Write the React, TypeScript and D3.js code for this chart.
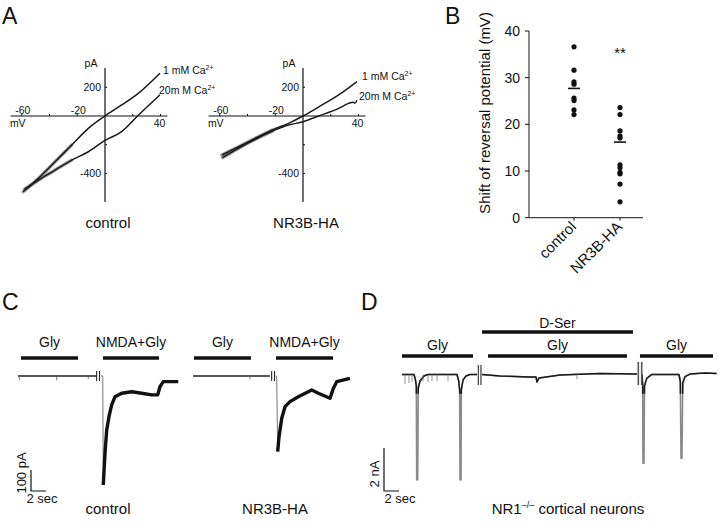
import React from "react";
import * as d3 from "d3";

type P = [number, number];

// ---------- Panel A: I–V relations (mV, pA) ----------
const ivControl1mM: P[] = [[-59, -528], [-48, -435], [-36, -319], [-24, -202], [-12, -86], [0, 0], [12, 77], [24, 158], [39.6, 298]];
const ivControl20mM: P[] = [[-58, -510], [-48, -447], [-36, -377], [-24, -307], [-12, -249], [0, -170], [12, -109], [23.5, 0], [39.6, 147]];
const ivNR3B1mM: P[] = [[-58.4, -272], [-46.4, -214], [-34.4, -156], [-22.3, -98], [-10.4, -51], [0, 0], [13.7, 77], [25.7, 147], [38.9, 240]];
const ivNR3B20mM: P[] = [[-58, -290], [-46, -222], [-34, -160], [-22, -105], [-10.4, -63], [0, -40], [11.3, 0], [25.7, 53], [32.9, 88], [36, 96], [37.5, 90], [38.9, 110]];
const ivXTicks = [-60, -40, -20, 20, 40];
const ivXLabelsTop = [-60, -20];
const ivXLabelsBottom = [40];
const ivYTicks = [200, -200, -400];
const ivYLabels = [200, -400];
const ivConditions = ["control", "NR3B-HA"];

// ---------- Panel B: shift of reversal potential (mV) ----------
const bGroups = ["control", "NR3B-HA"];
const shiftControl = [36.6, 31.6, 29.1, 28.6, 25.6, 25.1, 23.1, 22.1];
const shiftNR3B = [23.6, 22.1, 18.6, 17.5, 17.1, 11.3, 10.7, 9.7, 9.4, 7.2, 3.4];
const shiftMeans = [27.7, 16.2];
const bTicks = [0, 10, 20, 30, 40];

// ---------- Panel C: currents (sec, pA) ----------
const cStimLabels = ["Gly", "NMDA+Gly"];
const cStimControl: P[] = [[0.4, 8.0], [11.33, 18.8]];
const cStimNR3B: P[] = [[0.13, 7.73], [11.07, 18.67]];
const cControlGly: P[] = [[0, 0], [10.5, 0]];
const cControlGlyTicks: P[] = [[0.17, -18], [5.16, -20], [9.37, -14]];
const cControlNMDA: P[] = [[11.07, 0], [11.3, 0], [11.37, -519], [11.6, -367], [11.83, -257], [12.13, -194], [12.49, -138], [12.93, -99], [13.83, -82], [15.16, -75], [16.49, -82], [17.83, -90], [18.63, -90], [18.93, -51], [19.37, -27], [21.37, -27]];
const cNR3BGly: P[] = [[0, 0], [10.27, 0]];
const cNR3BGlyTicks: P[] = [[7.6, -15]];
const cNR3BNMDA: P[] = [[11.0, 0], [11.16, 0], [11.29, -360], [11.47, -289], [11.83, -201], [12.27, -146], [12.93, -122], [14.04, -99], [15.83, -67], [16.71, -82], [18.27, -106], [18.71, -59], [19.16, -27], [20.93, -11]];
const cBreaks = [10.49, 10.86];
const cTraceNames = ["control", "NR3B-HA"];

// ---------- Panel D: currents (sec, nA) ----------
const dSerBar: P = [10.67, 30.8];
const dGlyBars: P[] = [[0, 9.47], [11.47, 30.0], [31.73, 41.47]];
const dSeg1: P[] = [[0, 0], [1.6, 0], [1.8, -0.26], [1.91, -0.53], [1.96, -4.9], [2.09, -4.9], [2.17, -0.63], [2.4, -0.3], [2.93, -0.07], [3.47, 0], [7.33, 0], [7.56, -0.3], [7.69, -0.72], [7.73, -4.9], [7.87, -4.9], [7.91, -0.72], [8.13, -0.26], [8.53, -0.07], [9.07, 0], [10.0, 0]];
const dSeg1Ticks: P[] = [[0.4, -0.45], [0.93, -0.4], [1.33, -0.35], [2.8, -0.33], [3.47, -0.35], [4.0, -0.3], [4.67, -0.3], [6.13, -0.3]];
const dSeg2: P[] = [[10.67, 0], [13.07, -0.07], [17.07, -0.12], [17.87, -0.12], [18.0, -0.35], [18.27, -0.16], [21.07, -0.02], [26.4, 0.05], [31.33, 0.02]];
const dSeg2Ticks: P[] = [[23.33, -0.22]];
const dSeg3: P[] = [[32.0, 0], [32.09, -0.44], [32.13, -4.13], [32.27, -4.13], [32.33, -0.53], [32.63, -0.18], [33.29, 0], [36.93, 0], [37.11, -0.33], [37.2, -3.9], [37.33, -3.9], [37.43, -0.4], [37.73, -0.1], [38.4, 0.02], [40.4, 0.07], [41.96, 0.05]];
const dBreaks = [10.17, 10.53, 31.51, 31.96];

const FONT = "'Liberation Sans', Arial, Helvetica, sans-serif";
const INK = "#111";

function IVPanel({ axisX, t1, t20, title, lab1, lab20 }: { axisX: number; t1: P[]; t20: P[]; title: string; lab1: P; lab20: P }) {
  const x = d3.scaleLinear().domain([-60, 40]).range([axisX - 83.25, axisX + 55.5]);
  const y = d3.scaleLinear().domain([0, 200]).range([116, 87.3]);
  const line = d3.line<P>().x((d) => x(d[0])).y((d) => y(d[1])).curve(d3.curveMonotoneX);
  const noisy = (t: P[]) => t.filter((d) => d[0] <= -20);
  return (
    <g fontFamily={FONT} fill={INK}>
      <line x1={x(-68)} x2={x(45)} y1={y(0)} y2={y(0)} stroke={INK} strokeWidth={1.2} />
      <line x1={x(0)} x2={x(0)} y1={y(335)} y2={y(-600)} stroke={INK} strokeWidth={1.2} />
      {ivXTicks.map((t) => (
        <line key={"xt" + t} x1={x(t)} x2={x(t)} y1={y(0)} y2={y(0) - 2} stroke={INK} />
      ))}
      {ivYTicks.map((t) => (
        <line key={"yt" + t} x1={x(0)} x2={x(0) + 2} y1={y(t)} y2={y(t)} stroke={INK} />
      ))}
      {ivXLabelsTop.map((t) => (
        <text key={"xl" + t} x={x(t) + 1} y={y(0) - 2} fontSize={10.5} textAnchor="middle">{t}</text>
      ))}
      {ivXLabelsBottom.map((t) => (
        <text key={"xb" + t} x={x(t) - 1} y={y(0) + 11} fontSize={10.5} textAnchor="middle">{t}</text>
      ))}
      <text x={x(-60) - 4} y={y(0) + 11} fontSize={10.5} textAnchor="middle">mV</text>
      {ivYLabels.map((t) => (
        <text key={"yl" + t} x={x(0) - 4} y={y(t) + 4} fontSize={10.5} textAnchor="end">{t}</text>
      ))}
      <text x={x(0) - 14} y={67} fontSize={10.5} textAnchor="middle">pA</text>
      <path d={line(noisy(t20)) || ""} fill="none" stroke="#666" strokeOpacity={0.6} strokeWidth={3.5} strokeLinecap="round" />
      <path d={line(noisy(t1)) || ""} fill="none" stroke="#666" strokeOpacity={0.6} strokeWidth={3.5} strokeLinecap="round" />
      <path d={line(t20) || ""} fill="none" stroke="#1a1a1a" strokeWidth={1.5} strokeLinejoin="round" />
      <path d={line(t1) || ""} fill="none" stroke="#1a1a1a" strokeWidth={1.5} strokeLinejoin="round" />
      <text x={lab1[0]} y={lab1[1]} fontSize={10.5}>1 mM Ca<tspan dy={-4} fontSize={7}>2+</tspan></text>
      <text x={lab20[0]} y={lab20[1]} fontSize={10.5}>20m M Ca<tspan dy={-4} fontSize={7}>2+</tspan></text>
      <text x={x(0) + 3} y={228} fontSize={15} textAnchor="middle">{title}</text>
    </g>
  );
}

function CTrace({ x0, gly, glyTicks, nmda, stim, name, nameX }: { x0: number; gly: P[]; glyTicks: P[]; nmda: P[]; stim: P[]; name: string; nameX: number }) {
  const x = d3.scaleLinear().domain([0, 2]).range([x0, x0 + 15]);
  const y = d3.scaleLinear().domain([0, -100]).range([376, 397]);
  const line = d3.line<P>().x((d) => x(d[0])).y((d) => y(d[1]));
  return (
    <g fontFamily={FONT} fill={INK}>
      {stim.map((s, i) => (
        <g key={i}>
          <line x1={x(s[0])} x2={x(s[1])} y1={358} y2={358} stroke={INK} strokeWidth={3.5} />
          <text x={(x(s[0]) + x(s[1])) / 2} y={347} fontSize={14} textAnchor="middle">{cStimLabels[i]}</text>
        </g>
      ))}
      <path d={line(gly) || ""} fill="none" stroke="#222" strokeWidth={1.4} />
      {glyTicks.map((t, i) => (
        <line key={i} x1={x(t[0])} x2={x(t[0])} y1={y(0)} y2={y(t[1])} stroke="#555" strokeWidth={0.8} />
      ))}
      {cBreaks.map((b, i) => (
        <line key={"b" + i} x1={x(b)} x2={x(b)} y1={y(0) - 5} y2={y(0) + 5} stroke={INK} strokeWidth={1} />
      ))}
      <path d={line(nmda.slice(0, 3)) || ""} fill="none" stroke="#777" strokeWidth={1} />
      <path d={line(nmda.slice(2)) || ""} fill="none" stroke="#111" strokeWidth={3.4} strokeLinejoin="round" />
      <text x={nameX} y={514} fontSize={15} textAnchor="middle">{name}</text>
    </g>
  );
}

export default function App() {
  // Panel B scales
  const by = d3.scaleLinear().domain([0, 40]).range([217.7, 31]);
  const bx = d3.scalePoint<string>().domain(bGroups).range([574, 620]);
  const bSeries = [shiftControl, shiftNR3B];

  // Panel D scales
  const dx = d3.scaleLinear().domain([0, 2]).range([402, 417]);
  const dy = d3.scaleLinear().domain([0, -2]).range([374.5, 417.5]);
  const dLine = d3.line<P>().x((d) => dx(d[0])).y((d) => dy(d[1]));

  return (
    <svg width={720} height={523} style={{ position: "absolute", left: 0, top: 0, background: "#fff" }} fontFamily={FONT}>
      <defs>
        <clipPath id="dShallow">
          <rect x={380} y={300} width={340} height={dy(-0.9) - 300} />
        </clipPath>
      </defs>
      <rect width={720} height={523} fill="#fff" />
      {/* Panel letters */}
      <text x={2} y={24} fontSize={23} fill={INK} fontFamily={FONT}>A</text>
      <text x={445} y={24} fontSize={23} fill={INK} fontFamily={FONT}>B</text>
      <text x={2} y={310} fontSize={23} fill={INK} fontFamily={FONT}>C</text>
      <text x={361} y={310} fontSize={23} fill={INK} fontFamily={FONT}>D</text>

      {/* Panel A */}
      <IVPanel axisX={105} t1={ivControl1mM} t20={ivControl20mM} title={ivConditions[0]} lab1={[163, 74]} lab20={[159, 94]} />
      <IVPanel axisX={303} t1={ivNR3B1mM} t20={ivNR3B20mM} title={ivConditions[1]} lab1={[362, 80]} lab20={[359, 100]} />

      {/* Panel B */}
      <g fontFamily={FONT} fill={INK}>
        <line x1={529} x2={529} y1={by(40)} y2={by(0)} stroke={INK} strokeWidth={1} />
        <line x1={529} x2={643} y1={by(0)} y2={by(0)} stroke={INK} strokeWidth={1} />
        {bTicks.map((t) => (
          <g key={t}>
            <line x1={525} x2={529} y1={by(t)} y2={by(t)} stroke={INK} />
            <text x={520} y={by(t) + 5} fontSize={14} textAnchor="end">{t}</text>
          </g>
        ))}
        {bGroups.map((g) => (
          <g key={g}>
            <line x1={bx(g)} x2={bx(g)} y1={by(0)} y2={by(0) + 3} stroke={INK} />
            <text transform={`translate(${(bx(g) as number) + 3},${by(0) + 10}) rotate(-45)`} fontSize={15} textAnchor="end">{g}</text>
          </g>
        ))}
        {bSeries.map((s, i) =>
          s.map((v, j) => <circle key={i + "-" + j} cx={bx(bGroups[i])} cy={by(v)} r={2.6} fill={INK} />)
        )}
        {shiftMeans.map((m, i) => (
          <line key={"m" + i} x1={(bx(bGroups[i]) as number) - 6} x2={(bx(bGroups[i]) as number) + 6} y1={by(m)} y2={by(m)} stroke={INK} strokeWidth={1.6} />
        ))}
        <text x={bx(bGroups[1])} y={58} fontSize={15} textAnchor="middle">**</text>
        <text transform={`translate(490,113) rotate(-90)`} fontSize={15} textAnchor="middle">Shift of reversal potential (mV)</text>
      </g>

      {/* Panel C */}
      <CTrace x0={18} gly={cControlGly} glyTicks={cControlGlyTicks} nmda={cControlNMDA} stim={cStimControl} name={cTraceNames[0]} nameX={108} />
      <CTrace x0={193} gly={cNR3BGly} glyTicks={cNR3BGlyTicks} nmda={cNR3BNMDA} stim={cStimNR3B} name={cTraceNames[1]} nameX={275} />
      <g fontFamily={FONT} fill={INK}>
        <path d="M31,470 L31,491 L46,491" fill="none" stroke={INK} strokeWidth={1.2} />
        <text transform="translate(26,473) rotate(-90)" fontSize={13} textAnchor="middle">100 pA</text>
        <text x={42} y={503} fontSize={13} textAnchor="middle">2 sec</text>
      </g>

      {/* Panel D */}
      <g fontFamily={FONT} fill={INK}>
        <line x1={dx(dSerBar[0])} x2={dx(dSerBar[1])} y1={332} y2={332} stroke={INK} strokeWidth={3.5} />
        <text x={(dx(dSerBar[0]) + dx(dSerBar[1])) / 2} y={328} fontSize={14} textAnchor="middle">D-Ser</text>
        {dGlyBars.map((b, i) => (
          <g key={i}>
            <line x1={dx(b[0])} x2={dx(b[1])} y1={356} y2={356} stroke={INK} strokeWidth={3.5} />
            <text x={(dx(b[0]) + dx(b[1])) / 2} y={350} fontSize={14} textAnchor="middle">Gly</text>
          </g>
        ))}
        {[dSeg1, dSeg2, dSeg3].map((s, i) => (
          <path key={"g" + i} d={dLine(s) || ""} fill="none" stroke="#8a8a8a" strokeWidth={1.6} strokeLinejoin="round" />
        ))}
        <g clipPath="url(#dShallow)">
          {[dSeg1, dSeg2, dSeg3].map((s, i) => (
            <path key={"k" + i} d={dLine(s) || ""} fill="none" stroke="#1a1a1a" strokeWidth={1.5} strokeLinejoin="round" />
          ))}
        </g>
        {[...dSeg1Ticks, ...dSeg2Ticks].map((t, i) => (
          <line key={"t" + i} x1={dx(t[0])} x2={dx(t[0])} y1={dy(0)} y2={dy(t[1])} stroke="#777" strokeWidth={0.8} />
        ))}
        {dBreaks.map((b, i) => (
          <line key={"b" + i} x1={dx(b)} x2={dx(b)} y1={i < 2 ? 365 : 362} y2={385} stroke={i < 2 ? INK : "#555"} strokeWidth={i < 2 ? 1 : 1.6} />
        ))}
        <path d="M384,448 L384,491 L399,491" fill="none" stroke={INK} strokeWidth={1.2} />
        <text transform="translate(379,474) rotate(-90)" fontSize={13} textAnchor="middle">2 nA</text>
        <text x={400} y={503} fontSize={13} textAnchor="middle">2 sec</text>
        <text x={568} y={514} fontSize={15} textAnchor="middle">
          NR1<tspan dy={-6} fontSize={9}>–/–</tspan><tspan dy={6}> cortical neurons</tspan>
        </text>
      </g>
    </svg>
  );
}
